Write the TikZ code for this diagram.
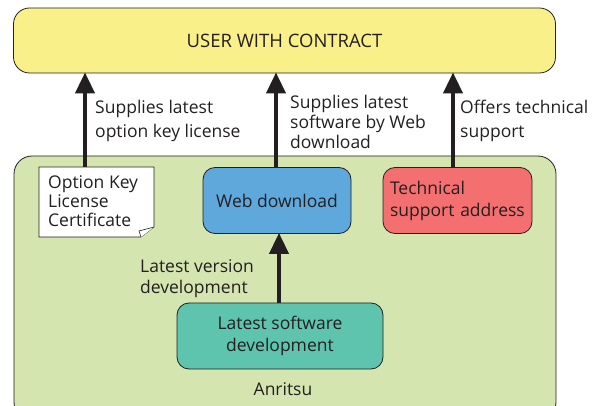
\documentclass[tikz,border=0pt]{standalone}
\usepackage{fontspec}
\setmainfont{Open Sans}
\usetikzlibrary{arrows.meta,positioning}
\definecolor{txt}{HTML}{231F20}
\definecolor{yel}{HTML}{F9F08A}
\definecolor{grn}{HTML}{D5E5B0}
\definecolor{blu}{HTML}{5FA8DC}
\definecolor{red}{HTML}{F47070}
\definecolor{teal}{HTML}{5EC4AE}
\tikzset{
  box/.style={draw=txt, line width=0.8pt, rounded corners=12pt, inner sep=0pt, text=txt, font=\fontsize{17.5}{22}\selectfont},
  lbl/.style={text=txt, align=left, inner sep=0pt},
  arr/.style={line width=4pt, draw=txt, -{Triangle[length=21pt,width=19pt]}, shorten >=-1pt},
}
\begin{document}
\begin{tikzpicture}[x=1pt,y=-1pt]
\useasboundingbox (0,0) rectangle (603,406);
% outer boxes
\draw[fill=grn, draw=txt, line width=0.8pt, rounded corners=18pt] (14,156) rectangle (556,420);
\node[box, fill=yel, minimum width=542pt, minimum height=65pt, rounded corners=16pt, font=\fontsize{18.5}{22}\selectfont] (user) at (284.5,40.5) {USER WITH CONTRACT};
% document
\draw[fill=white, draw=txt, line width=0.6pt] (39,167) -- (154,167) -- (154,227) -- (141,237) -- (39,237) -- cycle;
\draw[fill=white, draw=txt, line width=0.6pt, line join=round] (154,227) -- (139,231) -- (141,237);
\node[lbl, anchor=north west, font=\fontsize{17.5}{19}\selectfont] (cert) at (48,175) {Option Key\\License\\Certificate};
\coordinate (certtop) at (85,167);
% boxes
\node[box, fill=blu, minimum width=148pt, minimum height=66pt] (web) at (277,200.5) {Web download};
\node[box, fill=red, minimum width=149pt, minimum height=66pt, align=left, text width=135pt, inner xsep=7pt] (tech) at (457.5,200.5) {Technical\\support address};
\node[box, fill=teal, minimum width=206pt, minimum height=66pt, align=center] (dev) at (280,336) {Latest software\\development};
\node[lbl, font=\fontsize{17.5}{22}\selectfont] (anr) at (283,389) {Anritsu};
% arrows
\draw[arr] (certtop) -- (certtop |- user.south);
\draw[arr] (web.north -| 276,0) -- (user.south -| 276,0);
\draw[arr] (tech.north -| 453,0) -- (user.south -| 453,0);
\draw[arr] (dev.north -| 279,0) -- (web.south -| 279,0);
% labels
\node[lbl, anchor=north west, font=\fontsize{17.5}{24}\selectfont] (l1) at (95,100) {Supplies latest\\option key license};
\node[lbl, anchor=north west, font=\fontsize{17.5}{20}\selectfont] (l2) at (290,95) {Supplies latest\\software by Web\\download};
\node[lbl, anchor=north west, font=\fontsize{17.5}{24}\selectfont] (l3) at (460,100) {Offers technical\\support};
\node[lbl, anchor=north west, font=\fontsize{17.5}{21}\selectfont] (l4) at (140,259) {Latest version\\development};
\end{tikzpicture}
\end{document}
